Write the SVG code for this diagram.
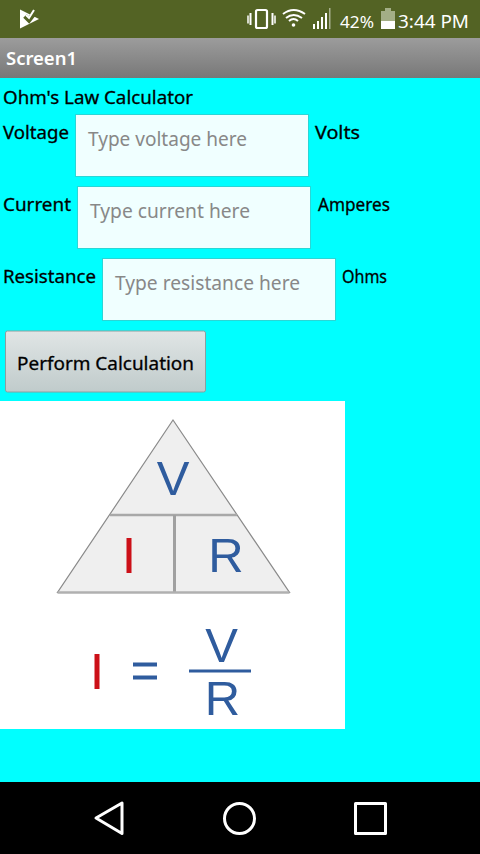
<svg xmlns="http://www.w3.org/2000/svg" width="480" height="854" viewBox="0 0 480 854">
<style>
.t{font-family:"Noto Sans","DejaVu Sans",sans-serif;font-size:18px;fill:#000;stroke:#000;stroke-width:.3}
.h{font-family:"Noto Sans","DejaVu Sans",sans-serif;font-size:19px;fill:#888}
.b{fill:#f0ffff;stroke:#2bd6d6;stroke-width:1}
.m{font-family:"Liberation Sans",Arial,sans-serif;fill:#2f5c9e}
.r{fill:#cc1018}
.n{fill:none;stroke:#fff;stroke-width:3;stroke-linejoin:round}
.s{font-family:"Noto Sans","DejaVu Sans",sans-serif;fill:#fff}
</style>
<defs>
<linearGradient id="bar" x1="0" y1="0" x2="0" y2="1"><stop offset="0" stop-color="#9c9c9c"/><stop offset="1" stop-color="#787878"/></linearGradient>
<linearGradient id="btn" x1="0" y1="0" x2="0" y2="1"><stop offset="0" stop-color="#e0e5e5"/><stop offset="1" stop-color="#c0cbcb"/></linearGradient>
</defs>
<rect width="480" height="854" fill="#00ffff"/>
<g id="status-bar">
<rect width="480" height="38" fill="#536324"/>
<path d="M20 9.500 L39 19 L20 28.500 Z" fill="#fff"/>
<path d="M25 16 L29 20 L36 11" fill="none" stroke="#536324" stroke-width="5"/>
<path d="M26 15 L29 18 L34 10" fill="none" stroke="#fff" stroke-width="2"/>
<rect x="256" y="10" width="11" height="18" rx="1.500" fill="none" stroke="#fff" stroke-width="2.200"/>
<path d="M250.500 13v12M272.500 13v12" stroke="#fff" stroke-width="2"/>
<path d="M248 15.500v8M275 15.500v8" stroke="#fff" stroke-width="1.500"/>
<path d="M283 14 Q293.500 6 305 14 M286 18 Q293.500 12 302 18 M289 21 Q293.500 17 298 21" fill="none" stroke="#fff" stroke-width="2"/>
<circle cx="293.500" cy="25" r="1.800" fill="#fff"/>
<path d="M313 24h2v5h-2zM317 21h2v8h-2zM321 17h2v12h-2zM325 13h2v16h-2z" fill="#fff"/>
<rect x="329" y="8" width="1.500" height="21" fill="#a9b18f"/>
<text class="s" x="340" y="28" font-size="17" textLength="34" lengthAdjust="spacingAndGlyphs">42%</text>
<path d="M381 29V11h4V8h6v3h4v18z" fill="#a3ae86"/>
<rect x="381" y="21" width="14" height="8" fill="#fff"/>
<text class="s" x="398" y="28" font-size="18" textLength="71" lengthAdjust="spacingAndGlyphs">3:44 PM</text>
</g>
<g id="title-bar">
<rect y="38" width="480" height="40" fill="url(#bar)"/>
<text class="s" x="6" y="65" font-size="18" font-weight="600" textLength="71" lengthAdjust="spacingAndGlyphs">Screen1</text>
</g>
<g id="heading"><text class="t" x="3" y="104" textLength="190" lengthAdjust="spacingAndGlyphs">Ohm's Law Calculator</text></g>
<g id="voltage-row">
<text class="t" x="3" y="139" textLength="66" lengthAdjust="spacingAndGlyphs">Voltage</text>
<rect class="b" x="75.500" y="114.500" width="233" height="62"/>
<text class="h" x="88" y="146" textLength="159" lengthAdjust="spacingAndGlyphs">Type voltage here</text>
<text class="t" x="315" y="139" textLength="45" lengthAdjust="spacingAndGlyphs">Volts</text>
</g>
<g id="current-row">
<text class="t" x="3" y="211" textLength="68" lengthAdjust="spacingAndGlyphs">Current</text>
<rect class="b" x="77.500" y="186.500" width="233" height="62"/>
<text class="h" x="90" y="218" textLength="160" lengthAdjust="spacingAndGlyphs">Type current here</text>
<text class="t" x="318" y="211" textLength="72" lengthAdjust="spacingAndGlyphs">Amperes</text>
</g>
<g id="resistance-row">
<text class="t" x="3" y="283" textLength="93" lengthAdjust="spacingAndGlyphs">Resistance</text>
<rect class="b" x="102.500" y="258.500" width="233" height="62"/>
<text class="h" x="115" y="290" textLength="185" lengthAdjust="spacingAndGlyphs">Type resistance here</text>
<text class="t" x="342" y="283" textLength="45" lengthAdjust="spacingAndGlyphs">Ohms</text>
</g>
<g id="calculate-button">
<rect x="5.500" y="331" width="200" height="61" rx="2" fill="url(#btn)" stroke="#8aa0a0" stroke-width="1"/>
<text class="t" x="17" y="370" textLength="177" lengthAdjust="spacingAndGlyphs">Perform Calculation</text>
</g>
<g id="ohm-image">
<rect y="401" width="345" height="328" fill="#fff"/>
<path d="M173 420 L289.500 592.500 H57.500 Z" fill="#efefef" stroke="#8a8a8a" stroke-width="1.200"/>
<path d="M110 515 H237" stroke="#a8a8a8" stroke-width="2.500"/>
<path d="M174.500 515 V592" stroke="#a0a0a0" stroke-width="3"/>
<path d="M57.500 592.500 H289.500" stroke="#b0b0b0" stroke-width="2.500"/>
<text class="m" x="173" y="495" font-size="49" text-anchor="middle">V</text>
<rect class="r" x="126.500" y="538" width="5" height="35"/>
<text class="m" x="226" y="572" font-size="49" text-anchor="middle">R</text>
<rect class="r" x="94.500" y="654" width="5" height="35"/>
<path d="M133 664.500H157M133 677.500H157" stroke="#2f5c9e" stroke-width="4"/>
<text class="m" x="221.500" y="662" font-size="49" text-anchor="middle">V</text>
<rect x="189" y="669.500" width="62" height="3" fill="#2f5c9e"/>
<text class="m" x="222.500" y="715" font-size="49" text-anchor="middle">R</text>
</g>
<g id="nav-bar">
<rect y="782" width="480" height="72" fill="#000"/>
<path class="n" d="M122 803 V833.500 L96 818 Z"/>
<circle class="n" cx="239.500" cy="818.500" r="15"/>
<rect class="n" x="355.500" y="803.500" width="30" height="30"/>
</g>
</svg>
